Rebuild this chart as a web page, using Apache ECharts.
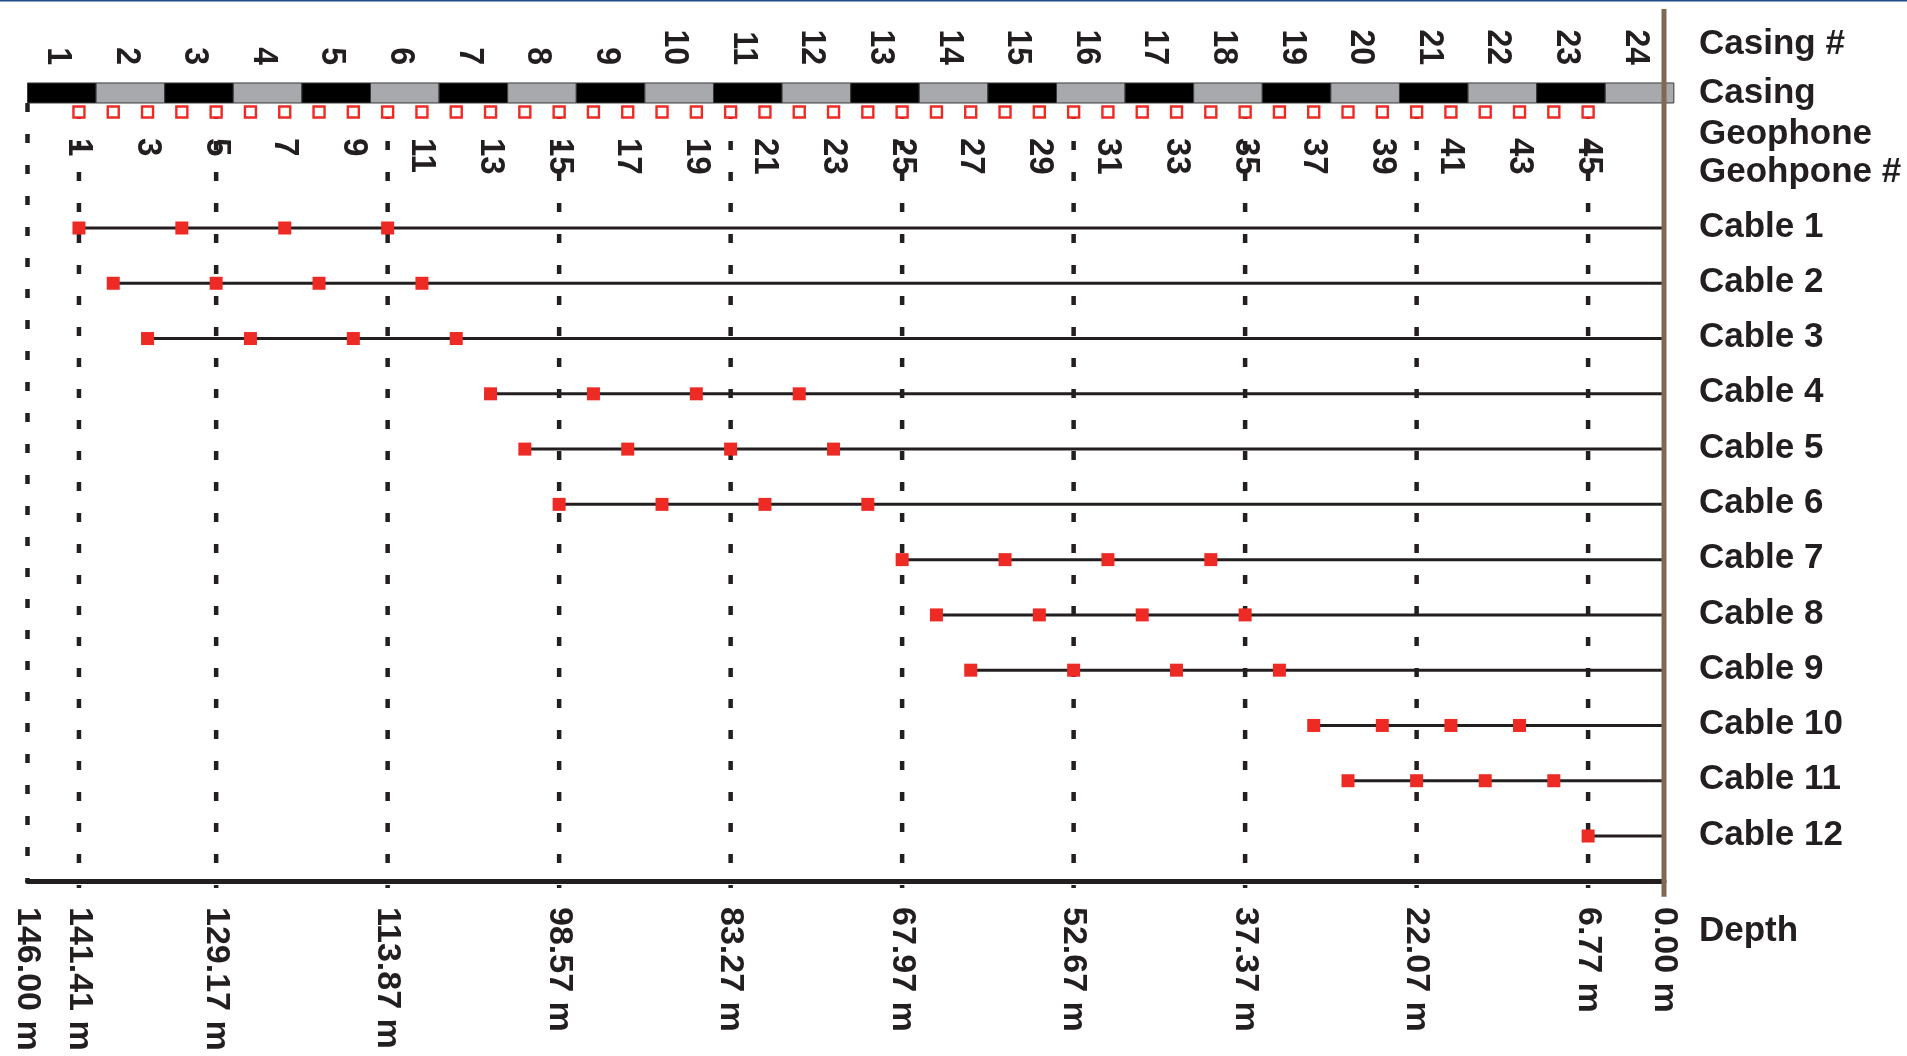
<!DOCTYPE html>
<html>
<head>
<meta charset="utf-8">
<script src="https://cdn.jsdelivr.net/npm/echarts@6/dist/echarts.min.js"></script>
<style>html,body{margin:0;padding:0;background:#fff}#main{width:1907px;height:1056px}</style>
</head>
<body>
<div id="main"></div>
<script>
// ---------------- DATA ----------------
const geophoneNumbers = [1,2,3,4,5,6,7,8,9,10,11,12,13,14,15,16,17,18,19,20,21,22,23,24,25,26,27,28,29,30,31,32,33,34,35,36,37,38,39,40,41,42,43,44,45];
const geophoneDepths = [141.41,138.35,135.29,132.23,129.17,126.11,123.05,119.99,116.93,113.87,
  110.81,107.75,104.69,101.63,98.57,95.51,92.45,89.39,86.33,83.27,
  80.21,77.15,74.09,71.03,67.97,64.91,61.85,58.79,55.73,52.67,
  49.61,46.55,43.49,40.43,37.37,34.31,31.25,28.19,25.13,22.07,
  19.01,15.95,12.89,9.83,6.77];
const geophoneLabels = [1,3,5,7,9,11,13,15,17,19,21,23,25,27,29,31,33,35,37,39,41,43,45];
const casingLabels = [1,2,3,4,5,6,7,8,9,10,11,12,13,14,15,16,17,18,19,20,21,22,23,24];
const casingBounds = [146.00,139.88,133.76,127.64,121.52,115.40,109.28,103.16,97.04,90.92,84.80,78.68,
  72.56,66.44,60.32,54.20,48.08,41.96,35.84,29.72,23.60,17.48,11.36,5.24,-0.88];
const cableNames = ['Cable 1','Cable 2','Cable 3','Cable 4','Cable 5','Cable 6','Cable 7','Cable 8','Cable 9','Cable 10','Cable 11','Cable 12'];
const cableGeophones = [[1,4,7,10],[2,5,8,11],[3,6,9,12],[13,16,19,22],[14,17,20,23],[15,18,21,24],
  [25,28,31,34],[26,29,32,35],[27,30,33,36],[37,39,41,43],[38,40,42,44],[45]];
const depthTicks = [146.00,141.41,129.17,113.87,98.57,83.27,67.97,52.67,37.37,22.07,6.77,0.00];
const headerLabels = ['Casing #','Casing','Geophone','Geohpone #'];
const depthTitle = 'Depth';

// ---------------- LAYOUT / STYLE ----------------
const FONT = "'Liberation Sans', Arial, Helvetica, sans-serif";
const INK = '#231F20';
const RED = '#EE2A24';
const Y_MIN = -2.962, Y_MAX = 12.814;
const ROW = {
  casingLabel: -1.949, casingTop: -1.6235, casingBottom: -1.2616,
  geoMarker: -1.0988, geoLabel: -0.6284, geoLineTop: -1.135,
  lineBottom: 12.94, brownBottom: 13.10,
  header: [-2.310, -1.420, -0.680, 0.010], depthTitle: 13.737
};
const RIGHT_TEXT_GAP = 35;

const depthOf = n => geophoneDepths[geophoneNumbers.indexOf(n)];

const chart = echarts.init(document.getElementById('main'), null, {renderer: 'canvas'});

const rotText = (x, y, text, align, size, widen) => ({
  type: 'text', x: x, y: y, rotation: -Math.PI / 2, scaleY: widen,
  style: {text: text, fontSize: size, fontWeight: 'bold', fontFamily: FONT, fill: INK,
    align: align, verticalAlign: 'middle'}
});

const option = {
  animation: false,
  backgroundColor: '#fff',
  graphic: [{type: 'rect', left: 0, top: 0, shape: {width: 1907, height: 1.6}, style: {fill: '#1F4E85'}, z: 100}],
  grid: {left: 27.5, right: 243, top: 9, bottom: 175, containLabel: false},
  xAxis: {
    type: 'value', min: 0, max: 146, inverse: true,
    axisLine: {show: true, onZero: false, lineStyle: {color: INK, width: 5}},
    axisTick: {show: false},
    splitLine: {show: false},
    axisLabel: {
      customValues: depthTicks, interval: 0, rotate: -90, margin: 26,
      fontSize: 34, fontWeight: 'bold', fontFamily: FONT, color: INK,
      formatter: v => Number(v).toFixed(2) + ' m'
    }
  },
  yAxis: {
    type: 'value', min: Y_MIN, max: Y_MAX, inverse: true, show: false
  },
  series: [
    // dotted vertical reference lines
    {
      type: 'custom', clip: false, silent: true, z: 2,
      data: depthTicks.filter(d => d > 0).map(d => [d]),
      encode: {x: 0},
      renderItem: (params, api) => {
        const d = api.value(0);
        const isEdge = d === 146;
        const top = api.coord([d, isEdge ? ROW.casingBottom : ROW.geoLineTop]);
        const bot = api.coord([d, isEdge ? Y_MAX : ROW.lineBottom]);
        return {type: 'line', shape: {x1: top[0], y1: top[1], x2: bot[0], y2: bot[1]},
          style: {stroke: INK, lineWidth: 4.5, lineDash: [9, 22], lineCap: 'butt'}};
      }
    },
    // casing blocks + casing numbers
    {
      type: 'custom', clip: false, silent: true, z: 3,
      data: casingLabels.map((n, i) => [casingBounds[i], casingBounds[i + 1], n]),
      encode: {x: [0, 1]},
      renderItem: (params, api) => {
        const a = api.coord([api.value(0), ROW.casingTop]);
        const b = api.coord([api.value(1), ROW.casingBottom]);
        const m = api.coord([(api.value(0) + api.value(1)) / 2, ROW.casingLabel]);
        return {type: 'group', children: [
          {type: 'rect', shape: {x: a[0], y: a[1], width: b[0] - a[0], height: b[1] - a[1]},
            style: {fill: params.dataIndex % 2 ? '#A7A9AC' : '#000000', stroke: '#3A3A3A', lineWidth: 1}},
          rotText(m[0] - 4, m[1], String(api.value(2)), 'right', 32, 1.12)
        ]};
      }
    },
    // geophone number labels
    {
      type: 'custom', clip: false, silent: true, z: 4,
      data: geophoneLabels.map(n => [depthOf(n), n]),
      encode: {x: 0},
      renderItem: (params, api) => {
        const p = api.coord([api.value(0), ROW.geoLabel]);
        return rotText(p[0], p[1], String(api.value(1)), 'left', 33, 1.05);
      }
    },
    // geophone hollow markers
    {
      type: 'scatter', silent: true, z: 5,
      symbol: 'rect', symbolSize: 11,
      itemStyle: {color: '#fff', borderColor: RED, borderWidth: 2.4, opacity: 1},
      data: geophoneDepths.map(d => [d, ROW.geoMarker])
    },
    // cable lines
    {
      type: 'custom', clip: false, silent: true, z: 3,
      data: cableGeophones.map((g, i) => [depthOf(g[0]), i + 1]),
      encode: {x: 0, y: 1},
      renderItem: (params, api) => {
        const a = api.coord([api.value(0), api.value(1)]);
        const b = api.coord([0, api.value(1)]);
        return {type: 'line', shape: {x1: a[0], y1: a[1], x2: b[0], y2: b[1]},
          style: {stroke: INK, lineWidth: 3}};
      }
    },
    // cable geophones (filled red squares)
    {
      type: 'scatter', silent: true, z: 6,
      symbol: 'rect', symbolSize: 13,
      itemStyle: {color: RED, opacity: 1},
      data: cableGeophones.flatMap((g, i) => g.map(n => [depthOf(n), i + 1]))
    },
    // right-side labels (headers, cables, depth title)
    {
      type: 'custom', clip: false, silent: true, z: 7,
      data: headerLabels.map((t, i) => [0, ROW.header[i], t])
        .concat(cableNames.map((t, i) => [0, i + 1, t]))
        .concat([[0, ROW.depthTitle, depthTitle]]),
      encode: {x: 0, y: 1},
      renderItem: (params, api) => {
        const p = api.coord([0, api.value(1)]);
        return {type: 'text', x: p[0] + RIGHT_TEXT_GAP, y: p[1] - 1,
          style: {text: api.value(2), fontSize: 35, fontWeight: 'bold', fontFamily: FONT, fill: INK,
            align: 'left', verticalAlign: 'middle'}};
      }
    },
    // brown 0 m line
    {
      type: 'custom', clip: false, silent: true, z: 10,
      data: [[0]],
      encode: {x: 0},
      renderItem: (params, api) => {
        const a = api.coord([api.value(0), Y_MIN]);
        const b = api.coord([api.value(0), ROW.brownBottom]);
        return {type: 'line', shape: {x1: a[0], y1: a[1], x2: b[0], y2: b[1]},
          style: {stroke: '#7F6A51', lineWidth: 5}};
      }
    }
  ]
};
chart.setOption(option);
</script>
</body>
</html>
